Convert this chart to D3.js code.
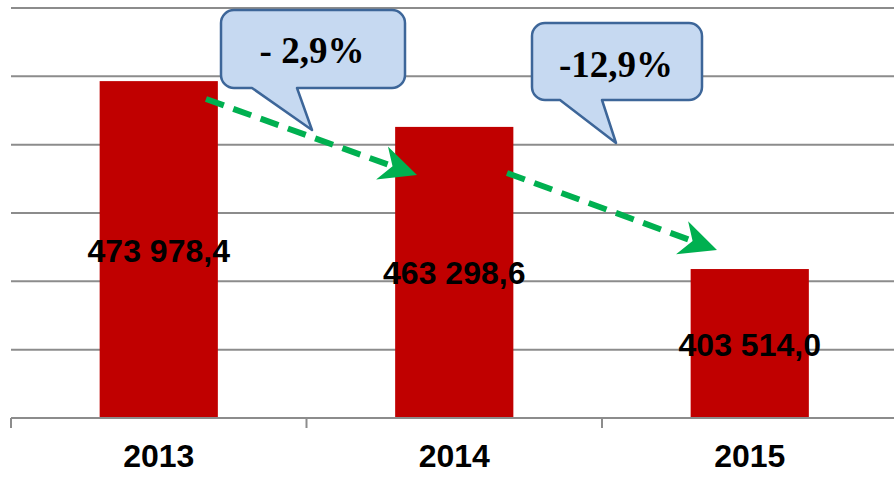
<!DOCTYPE html>
<html>
<head>
<meta charset="utf-8">
<script src="https://cdn.jsdelivr.net/npm/d3@7"></script>
<style>
  body { margin: 0; background: #fff; }
  #chart { width: 894px; height: 477px; }
</style>
</head>
<body>
<div id="chart"></div>
<script>
// Categories and values
var years = ["2013", "2014", "2015"];
var labels = ["473 978,4", "463 298,6", "403 514,0"];
// bar heights as drawn in the picture (axis 0..600000, no tick labels)
var barHeights = [493000, 426000, 218000];
var gridTicks = [100000, 200000, 300000, 400000, 500000, 600000];
var changes = ["- 2,9%", "-12,9%"];

var width = 894, height = 477;

var svg = d3.select("#chart")
  .append("svg")
  .attr("width", width)
  .attr("height", height);

// scales
var x = d3.scaleBand()
  .domain(years)
  .range([11, 897.5])
  .paddingInner(0.6)
  .paddingOuter(0.3);

var y = d3.scaleLinear()
  .domain([0, 600000])
  .range([418, 8]);

// gridlines
svg.append("g")
  .selectAll("line")
  .data(gridTicks)
  .enter()
  .append("line")
  .attr("x1", 11)
  .attr("x2", width)
  .attr("y1", function(d) { return y(d); })
  .attr("y2", function(d) { return y(d); })
  .style("stroke", "#8c8c8c")
  .style("stroke-width", 2);

// bars
svg.append("g")
  .selectAll("rect")
  .data(barHeights)
  .enter()
  .append("rect")
  .attr("x", function(d, i) { return x(years[i]); })
  .attr("y", function(d) { return y(d); })
  .attr("width", x.bandwidth())
  .attr("height", function(d) { return y(0) - y(d); })
  .style("fill", "#c00000");

// x axis: base line + ticks between categories
var axis = svg.append("g");
axis.append("line")
  .attr("x1", 11).attr("x2", width)
  .attr("y1", y(0)).attr("y2", y(0))
  .style("stroke", "#8c8c8c").style("stroke-width", 2);
var step = x.step();
axis.selectAll(".tick")
  .data(d3.range(years.length + 1))
  .enter()
  .append("line")
  .attr("x1", function(d) { return 11 + d * step; })
  .attr("x2", function(d) { return 11 + d * step; })
  .attr("y1", y(0))
  .attr("y2", y(0) + 10)
  .style("stroke", "#8c8c8c").style("stroke-width", 2);

axis.selectAll("text")
  .data(years)
  .enter()
  .append("text")
  .attr("x", function(d) { return x(d) + x.bandwidth() / 2; })
  .attr("y", 467)
  .attr("text-anchor", "middle")
  .style("font-family", "Liberation Sans, Arial, sans-serif")
  .style("font-weight", "bold")
  .style("font-size", "32px")
  .text(function(d) { return d; });

// value labels in the middle of each bar
svg.append("g")
  .selectAll("text")
  .data(barHeights)
  .enter()
  .append("text")
  .attr("x", function(d, i) { return x(years[i]) + x.bandwidth() / 2; })
  .attr("y", function(d) { return (y(d) + y(0)) / 2 + 12; })
  .attr("text-anchor", "middle")
  .style("font-family", "Liberation Sans, Arial, sans-serif")
  .style("font-weight", "bold")
  .style("font-size", "32px")
  .style("fill", "#000")
  .text(function(d, i) { return labels[i]; });

// green dashed trend arrows
var arrows = [
  { x1: 206, y1: 99, x2: 417, y2: 175 },
  { x1: 507, y1: 173, x2: 717, y2: 250 }
];
var ag = svg.append("g");
arrows.forEach(function(a) {
  var ang = Math.atan2(a.y2 - a.y1, a.x2 - a.x1);
  var ex = a.x2 - 27 * Math.cos(ang), ey = a.y2 - 27 * Math.sin(ang);
  ag.append("line")
    .attr("x1", a.x1).attr("y1", a.y1)
    .attr("x2", ex).attr("y2", ey)
    .style("stroke", "#00b050")
    .style("stroke-width", 6)
    .style("stroke-dasharray", "19,10");
  ag.append("path")
    .attr("d", "M0,0 L-37,-17 L-26,0 L-37,18 Z")
    .attr("transform", "translate(" + a.x2 + "," + a.y2 + ") rotate(" + (ang * 180 / Math.PI) + ")")
    .style("fill", "#00b050");
});

// callouts
var callouts = [
  { x: 221, y: 10, w: 184, h: 78, p1: 252, p2: 297, tx: 312, ty: 130, text: changes[0], cx: 312, base: 63 },
  { x: 532, y: 23, w: 170, h: 77, p1: 560, p2: 602, tx: 616, ty: 143, text: changes[1], cx: 616, base: 77 }
];

function calloutPath(c) {
  var r = 13, p = d3.path();
  var x0 = c.x, y0 = c.y, x1 = c.x + c.w, y1 = c.y + c.h;
  p.moveTo(x0 + r, y0);
  p.lineTo(x1 - r, y0);
  p.arcTo(x1, y0, x1, y0 + r, r);
  p.lineTo(x1, y1 - r);
  p.arcTo(x1, y1, x1 - r, y1, r);
  p.lineTo(c.p2, y1);
  p.lineTo(c.tx, c.ty);
  p.lineTo(c.p1, y1);
  p.lineTo(x0 + r, y1);
  p.arcTo(x0, y1, x0, y1 - r, r);
  p.lineTo(x0, y0 + r);
  p.arcTo(x0, y0, x0 + r, y0, r);
  p.closePath();
  return p.toString();
}

var cg = svg.append("g")
  .selectAll("g")
  .data(callouts)
  .enter()
  .append("g");

cg.append("path")
  .attr("d", calloutPath)
  .style("fill", "#c6d9f1")
  .style("stroke", "#3d6699")
  .style("stroke-width", 2.5)
  .style("stroke-linejoin", "round");

cg.append("text")
  .attr("x", function(d) { return d.cx; })
  .attr("y", function(d) { return d.base; })
  .attr("text-anchor", "middle")
  .style("font-family", "Liberation Serif, Times New Roman, serif")
  .style("font-weight", "bold")
  .style("font-size", "37px")
  .text(function(d) { return d.text; });
</script>
</body>
</html>
